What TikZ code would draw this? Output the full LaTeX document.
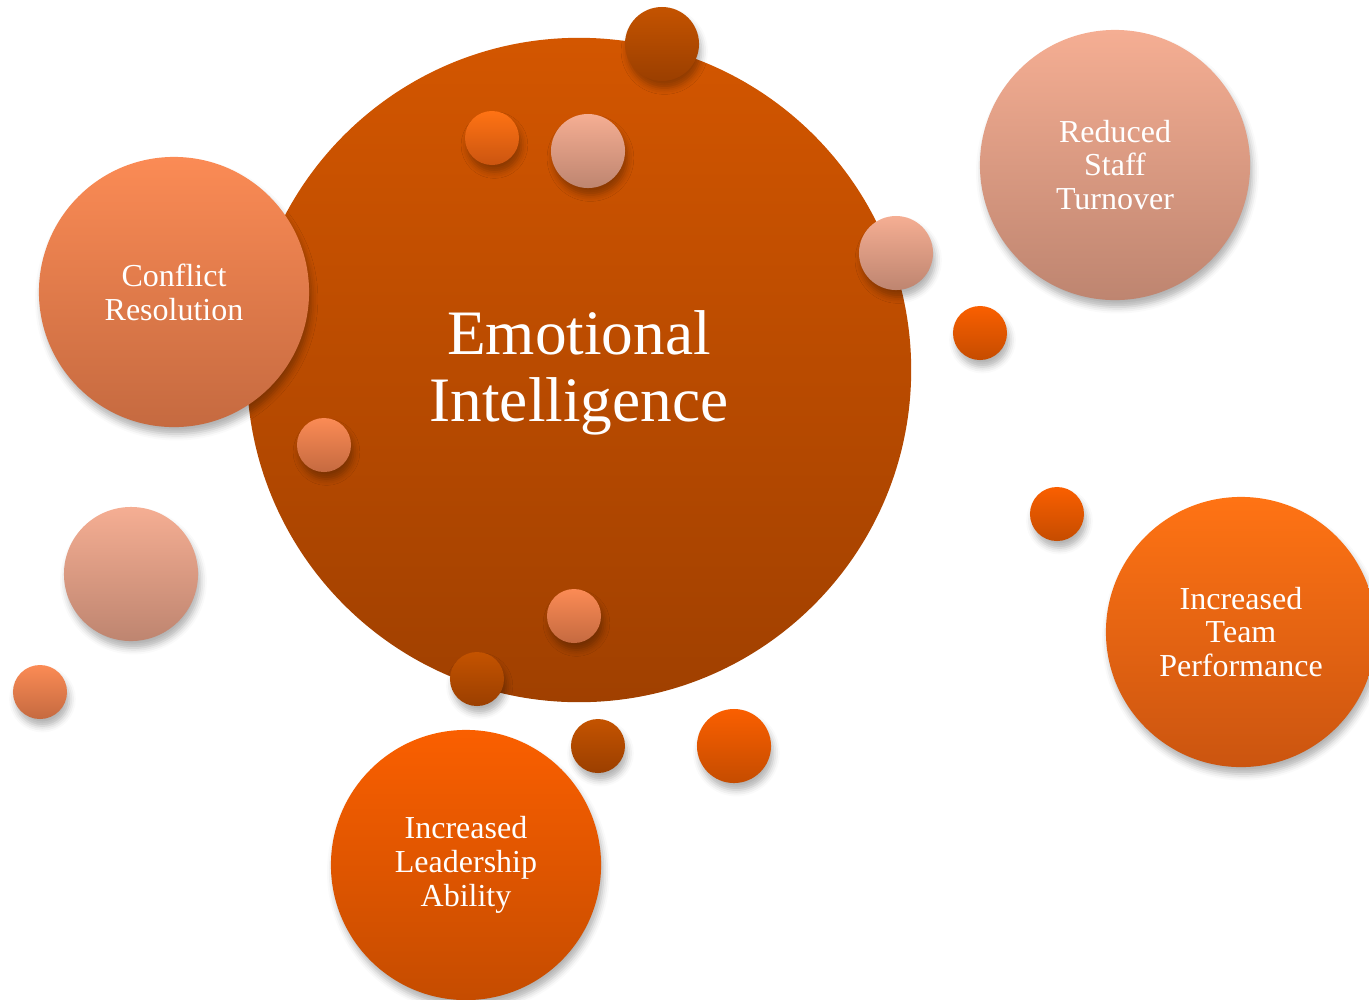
\documentclass[tikz,border=0pt]{standalone}
\usepackage{fontspec}
\setmainfont{Liberation Serif}
\usetikzlibrary{shadows.blur}
\definecolor{rustTop}{HTML}{D35600}
\definecolor{rustBot}{HTML}{A04000}
\definecolor{salmonTop}{HTML}{F5AE93}
\definecolor{salmonBot}{HTML}{BE8570}
\definecolor{peachTop}{HTML}{FB8B55}
\definecolor{peachBot}{HTML}{C56A40}
\definecolor{flameTop}{HTML}{FF7314}
\definecolor{flameBot}{HTML}{CB5510}
\definecolor{leadTop}{HTML}{FA5F00}
\definecolor{leadBot}{HTML}{C54C00}
\definecolor{darkTop}{HTML}{C45300}
\definecolor{darkBot}{HTML}{9B3F00}
\tikzset{
  bubble/.style={circle, inner sep=0pt, text=white, align=center,
    blur shadow={shadow xshift=0.7pt, shadow yshift=-2pt, shadow blur radius=1.8pt, shadow opacity=30}},
  rust/.style={bubble, top color=rustTop, bottom color=rustBot},
  salmon/.style={bubble, top color=salmonTop, bottom color=salmonBot},
  peach/.style={bubble, top color=peachTop, bottom color=peachBot},
  flame/.style={bubble, top color=flameTop, bottom color=flameBot},
  lead/.style={bubble, top color=leadTop, bottom color=leadBot},
  dark/.style={bubble, top color=darkTop, bottom color=darkBot},
  big/.style={minimum size=2.7cm, font=\fontsize{9.1}{9.6}\selectfont},
  small/.style={minimum size=0.54cm},
  mid/.style={minimum size=0.74cm}
}
\begin{document}
\begin{tikzpicture}[x=0.01cm, y=-0.01cm]
\useasboundingbox (0,0) rectangle (1369,999);
% central circle
\node[rust, minimum size=6.64cm, blur shadow={shadow opacity=0}] (emo) at (579,370) {};
\node[text=white, align=center, font=\fontsize{18}{19}\selectfont] (emotext) at (579,373) {Emotional\\Intelligence};
% outcomes
\node[peach, big] (conflict) at (174,292) {Conflict\\Resolution};
\node[salmon, big] (staff) at (1115,165) {Reduced\\Staff\\Turnover};
\node[flame, big] (team) at (1241,632) {Increased\\Team\\Performance};
\node[lead, big] (leader) at (466,865) {Increased\\Leadership\\Ability};
% small bubbles
\node[dark, mid] (d1) at (662,44) {};
\node[flame, small] (f1) at (492,138) {};
\node[salmon, mid] (s1) at (588,151) {};
\node[salmon, mid] (s2) at (896,253) {};
\node[lead, small] (l1) at (980,333) {};
\node[peach, small] (p1) at (324,445) {};
\node[salmon, minimum size=1.34cm] (s3) at (131,574) {};
\node[peach, small] (p2) at (40,692) {};
\node[peach, small] (p3) at (574,616) {};
\node[dark, small] (d2) at (477,679) {};
\node[dark, small] (d3) at (598,746) {};
\node[lead, mid] (l2) at (734,746) {};
\node[lead, small] (l3) at (1057,514) {};
\end{tikzpicture}
\end{document}
